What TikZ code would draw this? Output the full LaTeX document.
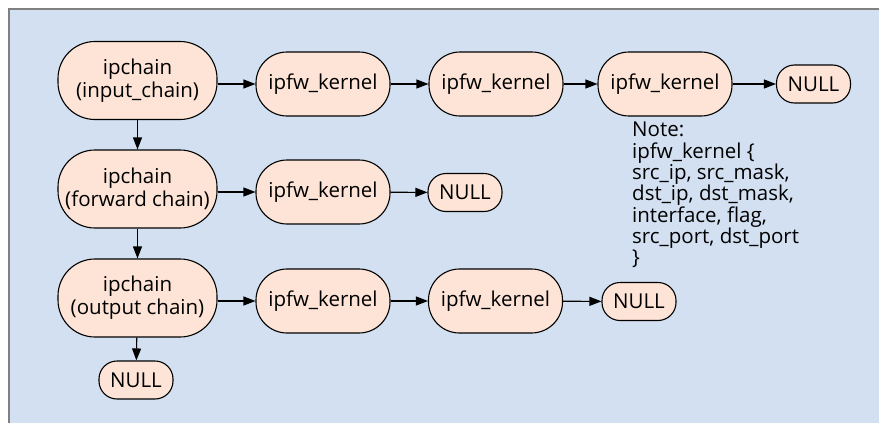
\documentclass[tikz,border=0pt]{standalone}
\usepackage{fontspec}
\setmainfont{Open Sans}
\usetikzlibrary{arrows.meta}
\definecolor{panelblue}{RGB}{211,224,241}
\definecolor{panelline}{RGB}{128,128,128}
\definecolor{nodefill}{RGB}{253,228,214}
\tikzset{
  pill/.style={draw=black, line width=1.1pt, fill=nodefill, align=center,
    inner sep=0pt, font=\fontsize{20.5}{23}\selectfont},
  chainbox/.style={pill, minimum width=159pt, minimum height=78pt, rounded corners=37pt},
  kernbox/.style={pill, minimum width=134pt, minimum height=64pt, rounded corners=31pt},
  nullbox/.style={pill, minimum width=74pt, minimum height=38pt, rounded corners=18pt},
  link/.style={draw=black, line width=1.1pt, -{Triangle[length=12pt,width=9pt]}},
}
\begin{document}
\begin{tikzpicture}[x=1pt,y=-1pt]
  % canvas and panel
  \useasboundingbox (0,0) rectangle (879,423);
  \fill[white] (0,0) rectangle (879,423);
  \fill[panelblue] (8,8) rectangle (879,423);
  \draw[panelline, line width=2pt] (9,423) -- (9,9) -- (879,9);

  % list heads
  \node[chainbox] (in)  at (137.5,80.5)  {ipchain\\(input\_chain)};
  \node[chainbox] (fwd) at (137.5,189)   {ipchain\\(forward chain)};
  \node[chainbox] (out) at (137.5,298)   {ipchain\\(output chain)};
  \node[nullbox]  (outnull) at (136,380) {NULL};

  % input chain
  \node[kernbox] (i1) at (323,84)   {ipfw\_kernel};
  \node[kernbox] (i2) at (496,84)   {ipfw\_kernel};
  \node[kernbox] (i3) at (665,84)   {ipfw\_kernel};
  \node[nullbox] (inull) at (813.5,84) {NULL};

  % forward chain
  \node[kernbox] (f1) at (323,192)  {ipfw\_kernel};
  \node[nullbox] (fnull) at (465,192.5) {NULL};

  % output chain
  \node[kernbox] (o1) at (323,301)  {ipfw\_kernel};
  \node[kernbox] (o2) at (495.5,301) {ipfw\_kernel};
  \node[nullbox] (onull) at (639,301.5) {NULL};

  % structure note
  \node[anchor=north west, align=left, inner sep=0pt,
        font=\fontsize{20.5}{21.3}\selectfont] (note) at (632,122)
    {Note:\\ipfw\_kernel \{\\src\_ip, src\_mask,\\dst\_ip, dst\_mask,\\interface, flag,\\src\_port, dst\_port\\\}};

  % links
  \draw[link] (in)  -- (fwd);
  \draw[link] (fwd) -- (out);
  \draw[link] (out) -- (outnull);
  \draw[link] (in.east |- i1.west) -- (i1);
  \draw[link] (i1) -- (i2);
  \draw[link] (i2) -- (i3);
  \draw[link] (i3) -- (inull);
  \draw[link] (fwd.east |- f1.west) -- (f1);
  \draw[link] (f1) -- (fnull);
  \draw[link] (out.east |- o1.west) -- (o1);
  \draw[link] (o1) -- (o2);
  \draw[link] (o2) -- (onull);
\end{tikzpicture}
\end{document}
